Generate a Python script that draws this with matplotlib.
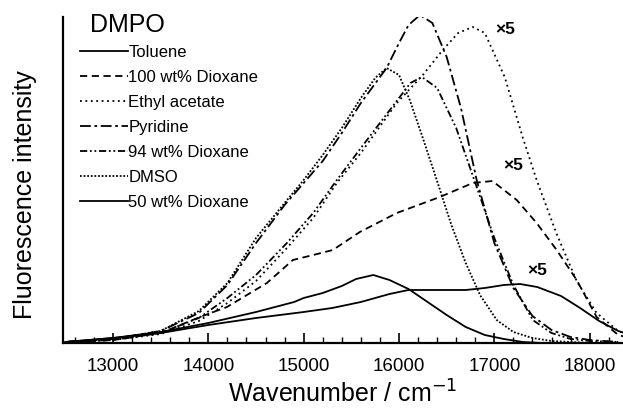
import matplotlib
matplotlib.use("Agg")
import matplotlib.pyplot as plt
from matplotlib.ticker import MultipleLocator

plt.rcParams['font.family'] = ['Liberation Sans', 'DejaVu Sans']

# ---- data (intensity in arbitrary units) ----
tol_x = [12500, 13000, 13500, 14000, 14500, 15000, 15300, 15600, 15900, 16100, 16400,
         16700, 16900, 17100, 17270, 17450, 17700, 17900, 18100, 18300, 18500]
tol_y = [1, 5, 10, 18, 25, 31, 35, 41, 49, 53, 53, 53, 55, 58, 59, 56, 47, 35, 22, 12, 6]

diox100_x = [12500, 13000, 13500, 13912, 14195, 14614, 14887, 15100, 15306, 15589, 15977,
             16428, 16774, 16980, 17235, 17444, 17654, 17864, 18073, 18300, 18500]
diox100_y = [1, 3, 10, 26, 36, 60, 83, 88, 93, 111, 130, 146, 160, 162, 143, 120, 93, 63, 26, 8, 3]

etac_x = [12500, 13000, 13500, 13900, 14200, 14500, 14824, 15100, 15348, 15600, 15977, 16250,
          16459, 16620, 16774, 16900, 17109, 17300, 17444, 17650, 17864, 18073, 18300, 18500]
etac_y = [1, 3, 9, 22, 40, 62, 95, 125, 160, 190, 240, 268, 293, 310, 316, 310, 266, 205,
          163, 110, 62, 30, 12, 5]

pyr_x = [12500, 13000, 13500, 13900, 14200, 14500, 14800, 15000, 15200, 15400, 15600, 15870,
         16000, 16100, 16220, 16350, 16500, 16650, 16815, 17000, 17200, 17400, 17600, 17800,
         18000, 18300]
pyr_y = [1, 4, 12, 30, 58, 100, 138, 160, 182, 210, 240, 275, 300, 318, 328, 320, 286, 235,
         163, 100, 55, 27, 13, 6, 3, 1]

diox94_x = [12500, 13000, 13500, 13900, 14200, 14500, 14824, 15100, 15348, 15600, 15800, 16000,
            16120, 16240, 16400, 16600, 16790, 17000, 17200, 17403, 17600, 17800, 18000, 18300]
diox94_y = [1, 3, 10, 25, 45, 68, 100, 130, 163, 195, 220, 245, 260, 266, 255, 215, 163, 105,
            58, 23, 10, 4, 2, 1]

dmso_x = [12500, 13000, 13500, 13900, 14200, 14500, 14800, 15000, 15200, 15400, 15600, 15750,
          15870, 16000, 16113, 16250, 16396, 16550, 16700, 16850, 17025, 17200, 17400, 17600,
          17800, 18000]
dmso_y = [1, 4, 12, 32, 60, 105, 140, 163, 188, 215, 245, 265, 275, 268, 243, 205, 163, 118,
          80, 48, 23, 11, 5, 2, 1, 0]

diox50_x = [12500, 13000, 13500, 14000, 14500, 14900, 15000, 15200, 15400, 15550, 15730, 15900,
            16100, 16300, 16500, 16700, 16900, 17100, 17300, 17500]
diox50_y = [1, 5, 11, 20, 31, 41, 45, 50, 57, 64, 68, 63, 54, 41, 28, 16, 8, 4, 1, 0]

labels = ['Toluene', '100 wt% Dioxane', 'Ethyl acetate', 'Pyridine',
          '94 wt% Dioxane', 'DMSO', '50 wt% Dioxane']
mult_label = '×5'
mult_pos_x = [17109, 17193, 17455]
mult_pos_y = [313, 178, 73]

# ---- figure ----
fig = plt.figure(figsize=(6.23, 4.11), dpi=100)
ax = fig.add_axes([63 / 623, 68 / 411, 560 / 623, 326 / 411])

lw = 1.3
series = [
    (tol_x, tol_y, '-'),
    (diox100_x, diox100_y, (0, (4, 2.5))),
    (etac_x, etac_y, (0, (1, 2))),
    (pyr_x, pyr_y, (0, (6, 2, 1.5, 2))),
    (diox94_x, diox94_y, (0, (4, 1.5, 1, 1.5, 1, 1.5))),
    (dmso_x, dmso_y, (0, (1, 1))),
    (diox50_x, diox50_y, '-'),
]
handles = []
for (x, y, ls), lab in zip(series, labels):
    h, = ax.plot(x, y, color='black', lw=lw, linestyle=ls, label=lab)
    handles.append(h)

for mx, my in zip(mult_pos_x, mult_pos_y):
    ax.text(mx, my, mult_label, fontsize=12.5, fontweight='bold', ha='center', va='center')

ax.set_xlim(12475, 18350)
ax.set_ylim(0, 326)

for s in ['top', 'right']:
    ax.spines[s].set_visible(False)
for s in ['left', 'bottom']:
    ax.spines[s].set_linewidth(1.6)

ax.set_yticks([])
ax.xaxis.set_major_locator(MultipleLocator(1000))
ax.xaxis.set_minor_locator(MultipleLocator(200))
ax.tick_params(axis='x', which='major', direction='in', length=7, width=1.2,
               labelsize=13.5, pad=11)
ax.tick_params(axis='x', which='minor', direction='in', length=4, width=1.0)

ax.set_xlabel('Wavenumber / cm$^{-1}$', fontsize=18)
ax.xaxis.set_label_coords(0.5, -(403 - 343) / 326)
ax.xaxis.label.set_va('baseline')
ax.set_ylabel('Fluorescence intensity', fontsize=18)
ax.yaxis.set_label_coords(-(63 - 37) / 560, (343 - 195) / 326)

fig.text(90 / 623, 1 - 25 / 411, 'DMPO', fontsize=18, ha='left', va='center')
leg = ax.legend(handles=handles, loc='upper left', frameon=False, fontsize=12,
                handlelength=2.9, handletextpad=0.0, labelspacing=0.6,
                borderpad=0, borderaxespad=0,
                bbox_to_anchor=(80 / 623, 1 - 45 / 411), bbox_transform=fig.transFigure)

fig.savefig('out.png', dpi=100)
